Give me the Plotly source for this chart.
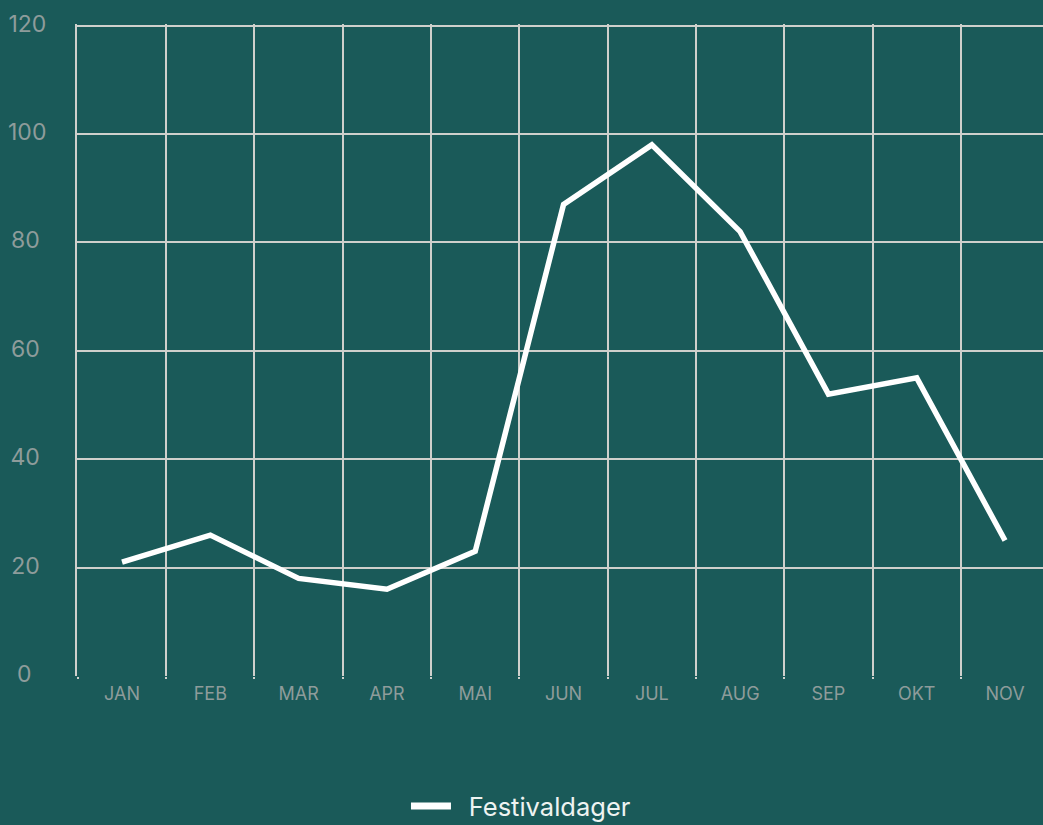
import plotly.graph_objects as go

months = ["JAN", "FEB", "MAR", "APR", "MAI", "JUN", "JUL", "AUG", "SEP", "OKT", "NOV"]
festivaldager = [21, 26, 18, 16, 23, 87, 98, 82, 52, 55, 25]
y_ticks = [0, 20, 40, 60, 80, 100, 120]
y_tick_text = ["0\u2007", "20\u2008", "40\u2008", "60\u2008", "80\u2008", "100", "120"]
series_name = "Festivaldager"

BG = "#1a5a59"
GRID = "#cfd0cc"
TICK = "#8e9c9b"

fig = go.Figure()
fig.add_trace(go.Scatter(
    x=months, y=festivaldager, mode="lines", name=series_name,
    line=dict(color="#ffffff", width=5.5), showlegend=False, legendgroup="f",
))
# legend entry with a thicker swatch
fig.add_trace(go.Scatter(
    x=[None], y=[None], mode="lines", name="\u2002" + series_name,
    line=dict(color="#ffffff", width=7), showlegend=True, legendgroup="f",
))
fig.update_layout(
    width=1043, height=825,
    paper_bgcolor=BG, plot_bgcolor=BG,
    margin=dict(l=77, r=0, t=24, b=149, autoexpand=False),
    font=dict(family="Inter", color=TICK),
    showlegend=True,
    legend=dict(orientation="h", x=0.4596, xanchor="center", y=-0.2, yanchor="middle",
                font=dict(size=25.5, color="#eef3f1"), itemwidth=40),
    xaxis=dict(type="category", range=[-0.51, 10.43], tickson="boundaries",
               showgrid=True, gridcolor=GRID, gridwidth=2, zeroline=False,
               showline=False, ticks="outside", ticklen=2, tickcolor=GRID, tickwidth=2,
               tickfont=dict(size=18, color=TICK), ticklabelstandoff=5),
    yaxis=dict(range=[0, 120.3], tickvals=y_ticks, ticktext=y_tick_text,
               showgrid=True, gridcolor=GRID, gridwidth=2, zeroline=False,
               showline=True, linecolor=GRID, linewidth=2,
               ticks="", tickfont=dict(size=23, color=TICK),
               ticklabelstandoff=24, ticklabelshift=-2),
)
fig.write_html("out.html", config={"displayModeBar": False})
with open("out.html", encoding="utf-8") as fh:
    html = fh.read()
html = html.replace("<head>", "<head><style>html,body{margin:0;padding:0;overflow:hidden;}</style>", 1)
with open("out.html", "w", encoding="utf-8") as fh:
    fh.write(html)
